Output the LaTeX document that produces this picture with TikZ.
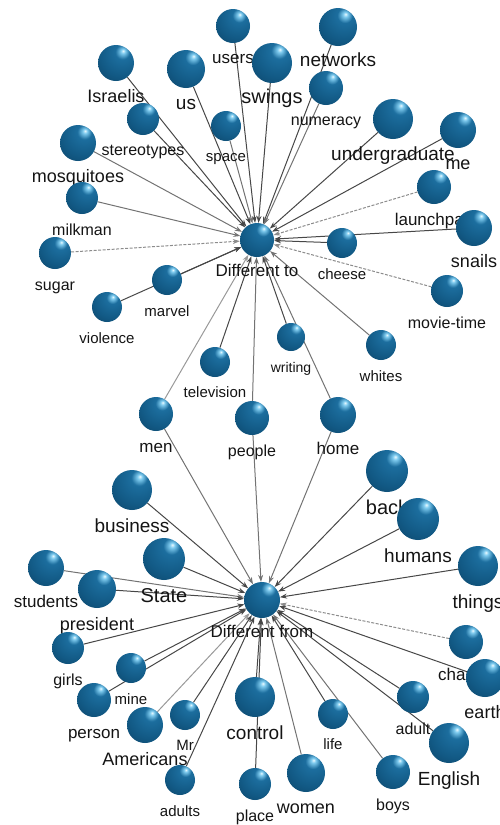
\documentclass[tikz,border=0pt]{standalone}
\usepackage{fontspec}
\setmainfont{Liberation Sans}
\usetikzlibrary{positioning,arrows.meta,backgrounds}
\pgfdeclareradialshading{globe}{\pgfpoint{10bp}{17bp}}{%
  rgb(0bp)=(0.92,0.98,1);
  rgb(3bp)=(0.5,0.8,0.94);
  rgb(10bp)=(0.11,0.43,0.62);
  rgb(30bp)=(0.07,0.35,0.52);
  rgb(54bp)=(0.04,0.24,0.37);
  rgb(69bp)=(0.01,0.12,0.21);
  rgb(100bp)=(0.01,0.12,0.21)}

\begin{document}
\begin{tikzpicture}[x=1pt,y=-1pt,
    ball/.style={circle,inner sep=0pt,minimum size=2*#1,shading=globe},
    word/.style={inner sep=0pt,yshift=-7pt,text height=0.72em,text depth=0.2em,text=black!92,font=\fontsize{#1}{#1}\selectfont},
    link/.style={-{Stealth[length=7pt,width=5pt]},line width=1pt,black!72},
    link-mid/.style={link,black!55},
    link-lt/.style={link,black!40},
    link-dash/.style={link,black!45,dash pattern=on 3pt off 1.5pt}
]
\useasboundingbox (0,0) rectangle (500,825);

% Hubs
\node[ball=17] (hub-to) at (257,240) {};
\node[word=17,below=5pt of hub-to] (hub-to-txt) {Different to};
\node[ball=18] (hub-from) at (262,600) {};
\node[word=17,below=5pt of hub-from] (hub-from-txt) {Different from};

% Upper cluster
\node[ball=17] (users) at (233,26) {};
\node[word=17,below=6pt of users] (users-txt) {users};
\node[ball=19] (networks) at (338,27) {};
\node[word=19,below=6pt of networks] (networks-txt) {networks};
\node[ball=18] (israelis) at (116,63) {};
\node[word=18,below=7pt of israelis] (israelis-txt) {Israelis};
\node[ball=19] (us) at (186,69) {};
\node[word=19,below=7pt of us] (us-txt) {us};
\node[ball=20] (swings) at (272,63) {};
\node[word=20,below=6pt of swings] (swings-txt) {swings};
\node[ball=17] (numeracy) at (326,88) {};
\node[word=16,below=6pt of numeracy] (numeracy-txt) {numeracy};
\node[ball=16] (stereotypes) at (143,119) {};
\node[word=16,below=6pt of stereotypes] (stereotypes-txt) {stereotypes};
\node[ball=15] (space) at (226,126) {};
\node[word=15,below=6pt of space] (space-txt) {space};
\node[ball=20] (undergraduate) at (393,119) {};
\node[word=19,below=7pt of undergraduate] (undergraduate-txt) {undergraduate};
\node[ball=18] (me) at (458,130) {};
\node[word=18,below=7pt of me] (me-txt) {me};
\node[ball=18] (mosquitoes) at (78,143) {};
\node[word=18,below=7pt of mosquitoes] (mosquitoes-txt) {mosquitoes};
\node[ball=17] (launchpad) at (434,187) {};
\node[word=17,below=7pt of launchpad] (launchpad-txt) {launchpad};
\node[ball=16] (milkman) at (82,198) {};
\node[word=16,below=7pt of milkman] (milkman-txt) {milkman};
\node[ball=18] (snails) at (474,228) {};
\node[word=18,below=7pt of snails] (snails-txt) {snails};
\node[ball=15] (cheese) at (342,243) {};
\node[word=15,below=7pt of cheese] (cheese-txt) {cheese};
\node[ball=16] (sugar) at (55,253) {};
\node[word=16,below=7pt of sugar] (sugar-txt) {sugar};
\node[ball=15] (marvel) at (167,280) {};
\node[word=15,below=7pt of marvel] (marvel-txt) {marvel};
\node[ball=16] (movie-time) at (447,291) {};
\node[word=16,below=7pt of movie-time] (movie-time-txt) {movie-time};
\node[ball=15] (violence) at (107,307) {};
\node[word=15,below=7pt of violence] (violence-txt) {violence};
\node[ball=14] (writing) at (291,337) {};
\node[word=14,below=7pt of writing] (writing-txt) {writing};
\node[ball=15] (whites) at (381,345) {};
\node[word=15,below=7pt of whites] (whites-txt) {whites};
\node[ball=15] (television) at (215,362) {};
\node[word=15,below=6pt of television] (television-txt) {television};

% Shared leaves
\node[ball=17] (men) at (156,414) {};
\node[word=17,below=7pt of men] (men-txt) {men};
\node[ball=17] (people) at (252,418) {};
\node[word=16,below=7pt of people] (people-txt) {people};
\node[ball=18] (home) at (338,415) {};
\node[word=17,below=7pt of home] (home-txt) {home};

% Lower cluster
\node[ball=20] (business) at (132,490) {};
\node[word=19,below=8pt of business] (business-txt) {business};
\node[ball=21] (back) at (387,471) {};
\node[word=20,below=8pt of back] (back-txt) {back};
\node[ball=21] (humans) at (418,519) {};
\node[word=19,below=8pt of humans] (humans-txt) {humans};
\node[ball=21] (state) at (164,559) {};
\node[word=20,below=8pt of state] (state-txt) {State};
\node[ball=18] (students) at (46,568) {};
\node[word=17,below=7pt of students] (students-txt) {students};
\node[ball=20] (things) at (478,566) {};
\node[word=19,below=8pt of things] (things-txt) {things};
\node[ball=19] (president) at (97,589) {};
\node[word=18,below=8pt of president] (president-txt) {president};
\node[ball=17] (change) at (466,642) {};
\node[word=17,below=7pt of change] (change-txt) {change};
\node[ball=16] (girls) at (68,648) {};
\node[word=16,below=7pt of girls] (girls-txt) {girls};
\node[ball=15] (mine) at (131,668) {};
\node[word=15,below=7pt of mine] (mine-txt) {mine};
\node[ball=19] (earth) at (485,678) {};
\node[word=18,below=7pt of earth] (earth-txt) {earth};
\node[ball=20] (control) at (255,697) {};
\node[word=19,below=8pt of control] (control-txt) {control};
\node[ball=16] (adult) at (413,697) {};
\node[word=16,below=7pt of adult] (adult-txt) {adult};
\node[ball=17] (person) at (94,700) {};
\node[word=17,below=7pt of person] (person-txt) {person};
\node[ball=15] (life) at (333,714) {};
\node[word=15,below=6pt of life] (life-txt) {life};
\node[ball=15] (mr) at (185,715) {};
\node[word=15,below=6pt of mr] (mr-txt) {Mr};
\node[ball=18] (americans) at (145,725) {};
\node[word=18,below=8pt of americans] (americans-txt) {Americans};
\node[ball=20] (english) at (449,743) {};
\node[word=19,below=8pt of english] (english-txt) {English};
\node[ball=17] (boys) at (393,772) {};
\node[word=16,below=7pt of boys] (boys-txt) {boys};
\node[ball=19] (women) at (306,773) {};
\node[word=18,below=7pt of women] (women-txt) {women};
\node[ball=15] (adults) at (180,780) {};
\node[word=15,below=7pt of adults] (adults-txt) {adults};
\node[ball=16] (place) at (255,784) {};
\node[word=16,below=7pt of place] (place-txt) {place};

% Arrows into the hubs
\begin{scope}[on background layer]
\draw[link] (users) -- (hub-to);
\draw[link] (networks) -- (hub-to);
\draw[link] (israelis) -- (hub-to);
\draw[link] (us) -- (hub-to);
\draw[link] (swings) -- (hub-to);
\draw[link-mid] (numeracy) -- (hub-to);
\draw[link] (stereotypes) -- (hub-to);
\draw[link-mid] (space) -- (hub-to);
\draw[link] (undergraduate) -- (hub-to);
\draw[link] (me) -- (hub-to);
\draw[link-mid] (mosquitoes) -- (hub-to);
\draw[link-dash] (launchpad) -- (hub-to);
\draw[link-mid] (milkman) -- (hub-to);
\draw[link] (snails) -- (hub-to);
\draw[link] (cheese) -- (hub-to);
\draw[link-dash] (sugar) -- (hub-to);
\draw[link] (marvel) -- (hub-to);
\draw[link-dash] (movie-time) -- (hub-to);
\draw[link] (violence) -- (hub-to);
\draw[link] (writing) -- (hub-to);
\draw[link-mid] (whites) -- (hub-to);
\draw[link] (television) -- (hub-to);
\draw[link-lt] (men) -- (hub-to);
\draw[link-mid] (people) -- (hub-to);
\draw[link-mid] (home) -- (hub-to);

\draw[link-mid] (men) -- (hub-from);
\draw[link-mid] (people) -- (hub-from);
\draw[link-mid] (home) -- (hub-from);
\draw[link] (business) -- (hub-from);
\draw[link] (back) -- (hub-from);
\draw[link] (humans) -- (hub-from);
\draw[link] (state) -- (hub-from);
\draw[link-mid] (students) -- (hub-from);
\draw[link] (things) -- (hub-from);
\draw[link] (president) -- (hub-from);
\draw[link-dash] (change) -- (hub-from);
\draw[link] (girls) -- (hub-from);
\draw[link] (mine) -- (hub-from);
\draw[link] (earth) -- (hub-from);
\draw[link] (control) -- (hub-from);
\draw[link] (adult) -- (hub-from);
\draw[link] (person) -- (hub-from);
\draw[link] (life) -- (hub-from);
\draw[link] (mr) -- (hub-from);
\draw[link-lt] (americans) -- (hub-from);
\draw[link] (english) -- (hub-from);
\draw[link-mid] (boys) -- (hub-from);
\draw[link-mid] (women) -- (hub-from);
\draw[link] (adults) -- (hub-from);
\draw[link] (place) -- (hub-from);
\end{scope}

\end{tikzpicture}
\end{document}
